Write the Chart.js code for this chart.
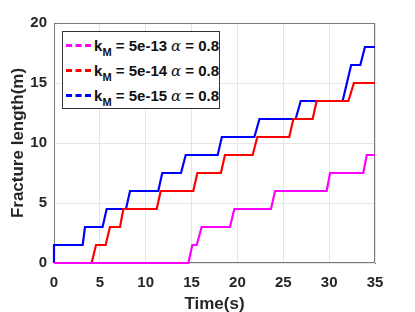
<!DOCTYPE html>
<html>
<head>
<meta charset="utf-8">
<script src="https://cdn.jsdelivr.net/npm/chart.js@4"></script>
<style>
  html, body { margin: 0; padding: 0; background: #fff; }
  #wrap { position: relative; width: 415px; height: 312px; }
  #legend {
    position: absolute; left: 62px; top: 31px; width: 158px; height: 78px;
    border: 1px solid #333; background: #fff; box-sizing: border-box;
    font-family: "Liberation Sans", Arial, sans-serif; font-weight: bold; font-size: 15px; color: #111;
    padding-top: 1px;
  }
  .row { height: 25px; display: flex; align-items: center; white-space: nowrap; }
  .dash { width: 27px; margin: 0 3px 0 3px; border-top: 3px dashed; }
  .txt sub { font-size: 11px; vertical-align: -5px; line-height: 0; }
  .alpha { font-family: "DejaVu Serif", serif; font-style: italic; font-weight: normal; margin: 0 4px; }
</style>
</head>
<body>
<div id="wrap">
  <canvas id="c" width="415" height="312"></canvas>
  <div id="legend"></div>
</div>
<script>
// series (time in s, fracture length in m)
const kLabels = ['5e-13', '5e-14', '5e-15'];
const alphaValue = '0.8';
const colors = ['#ff00ff', '#ff0000', '#0000ff'];

const tMag = [0, 14.65, 15.08, 15.56, 16.1, 19.19, 19.66, 23.66, 24.1, 29.73, 30.1, 33.72, 34.1, 35];
const yMag = [0, 0, 1.5, 1.5, 3, 3, 4.5, 4.5, 6, 6, 7.5, 7.5, 9, 9];

const tRed = [0, 4.1, 4.58, 5.63, 6.1, 7.2, 7.56, 11.2, 11.63, 15.19, 15.63, 18.2, 18.64, 21.66, 22.17, 25.65, 26.1, 28.2, 28.64, 32.1, 32.7, 35];
const yRed = [0, 0, 1.5, 1.5, 3, 3, 4.5, 4.5, 6, 6, 7.5, 7.5, 9, 9, 10.5, 10.5, 12, 12, 13.5, 13.5, 15, 15];

const tBlue = [0, 0, 3.13, 3.38, 5.3, 5.74, 7.85, 8.29, 11.37, 11.8, 13.85, 14.36, 17.85, 18.3, 21.85, 22.4, 26.35, 26.9, 31.47, 32.4, 33.4, 33.9, 35];
const yBlue = [0, 1.5, 1.5, 3, 3, 4.5, 4.5, 6, 6, 7.5, 7.5, 9, 9, 10.5, 10.5, 12, 12, 13.5, 13.5, 16.5, 16.5, 18, 18];

const xTicks = [0, 5, 10, 15, 20, 25, 30, 35];
const yTicks = [0, 5, 10, 15, 20];

const pts = (ts, ys) => ts.map((t, i) => ({ x: t, y: ys[i] }));
const series = [pts(tMag, yMag), pts(tRed, yRed), pts(tBlue, yBlue)];

// legend in HTML so the subscript works
document.getElementById('legend').innerHTML = kLabels.map((k, i) =>
  '<div class="row"><span class="dash" style="border-color:' + colors[i] + '"></span>' +
  '<span class="txt">k<sub>M</sub>&nbsp;= ' + k + '<span class="alpha">\u03b1</span>= ' + alphaValue + '</span></div>'
).join('');

const font = { family: '"Liberation Sans", Arial, sans-serif', weight: 'bold', size: 15 };

// matlab style box, drawn under the lines
const boxPlugin = {
  id: 'box',
  beforeDatasetsDraw(chart) {
    const a = chart.chartArea, ctx = chart.ctx;
    ctx.save();
    ctx.strokeStyle = '#7a7a7a';
    ctx.lineWidth = 1;
    ctx.strokeRect(a.left + 0.5, a.top + 0.5, a.right - a.left - 1, a.bottom - a.top - 1);
    ctx.restore();
  }
};

new Chart(document.getElementById('c'), {
  type: 'line',
  data: {
    datasets: series.map((d, i) => ({
      data: d,
      borderColor: colors[i],
      borderWidth: 2.2,
      pointRadius: 0,
      tension: 0,
      fill: false,
      clip: 3
    }))
  },
  options: {
    responsive: false,
    animation: false,
    layout: { padding: { left: 8, right: 40, top: 23, bottom: 0 } },
    plugins: { legend: { display: false }, tooltip: { enabled: false } },
    scales: {
      x: {
        type: 'linear', min: 0, max: 35,
        afterBuildTicks: s => { s.ticks = xTicks.map(v => ({ value: v })); },
        afterFit: s => { s.height = 49; },
        grid: { color: '#e6e6e6', drawTicks: false },
        border: { color: '#7a7a7a', z: -1 },
        ticks: { color: '#262626', font: font, padding: 11, maxRotation: 0 },
        title: { display: true, text: 'Time(s)', color: '#262626', font: { ...font, size: 17 }, padding: { top: 0, bottom: -3 } }
      },
      y: {
        min: 0, max: 20,
        afterBuildTicks: s => { s.ticks = yTicks.map(v => ({ value: v })); },
        afterFit: s => { s.width = 46; },
        grid: { color: '#e6e6e6', drawTicks: false },
        border: { color: '#7a7a7a', z: -1 },
        ticks: { color: '#262626', font: font, padding: 7 },
        title: { display: true, text: 'Fracture length(m)', color: '#262626', font: { ...font, size: 17 }, padding: { top: 0, bottom: 2 } }
      }
    }
  },
  plugins: [boxPlugin]
});
</script>
</body>
</html>
